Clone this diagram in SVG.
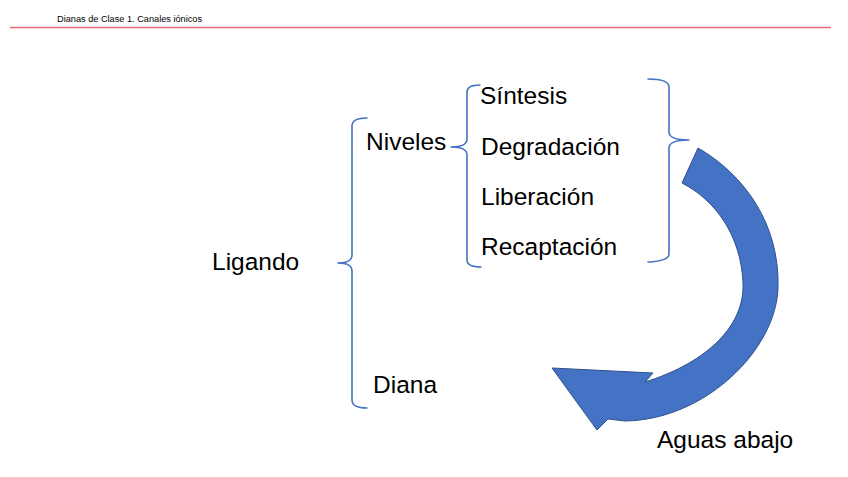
<svg xmlns="http://www.w3.org/2000/svg" width="848" height="477" viewBox="0 0 848 477">
<style>
.t{font-family:"Liberation Sans",Arial,sans-serif;font-size:24.5px;fill:#000}
.h{font-family:"Liberation Sans",Arial,sans-serif;font-size:9.2px;fill:#000}
.br{fill:none;stroke:#4472C4;stroke-width:1.6;stroke-linejoin:round;stroke-linecap:round}
.arrow{fill:#4472C4;stroke:#2F528F;stroke-width:1;stroke-linejoin:miter}
</style>
<rect width="848" height="477" fill="#fff"/>
<g id="header">
<text class="h" x="57" y="22">Dianas de Clase 1. Canales iónicos</text>
<line x1="10" y1="27.5" x2="831" y2="27.5" stroke="#E46C74" stroke-width="1.3"/>
</g>
<g id="ligando"><text class="t" x="212" y="270">Ligando</text></g>
<g id="niveles"><text class="t" x="366" y="150">Niveles</text></g>
<g id="diana"><text class="t" x="373" y="393">Diana</text></g>
<g id="sintesis"><text class="t" x="480" y="104">Síntesis</text></g>
<g id="degradacion"><text class="t" x="481" y="155">Degradación</text></g>
<g id="liberacion"><text class="t" x="481" y="205">Liberación</text></g>
<g id="recaptacion"><text class="t" x="481" y="255">Recaptación</text></g>
<g id="aguas-abajo"><text class="t" x="657" y="448">Aguas abajo</text></g>
<g id="connectors">
<path class="br" d="M367,118 Q352,118 352,126 L352,255 Q352,263 338,263 Q352,263 352,271 L352,400 Q352,408 367,408"/>
<path class="br" d="M480,85 Q467,85 467,92 L467,139 Q467,147 451,147 Q467,147 467,155 L467,260 Q467,267 481,267"/>
<path class="br" d="M648,79 Q669,79 669,87 L669,132 Q669,140 689,140 Q669,140 669,148 L669,254 Q669,261 648,262"/>
<path class="arrow" d="M698,148 C745,175 780,225 778,288 C776,350 705,420 625,421 L608,419 L597,430 L552,368 L653,373 L645,382 C700,365 745,330 743,283 C741,235 715,200 682,183 Z"/>
</g>
</svg>
